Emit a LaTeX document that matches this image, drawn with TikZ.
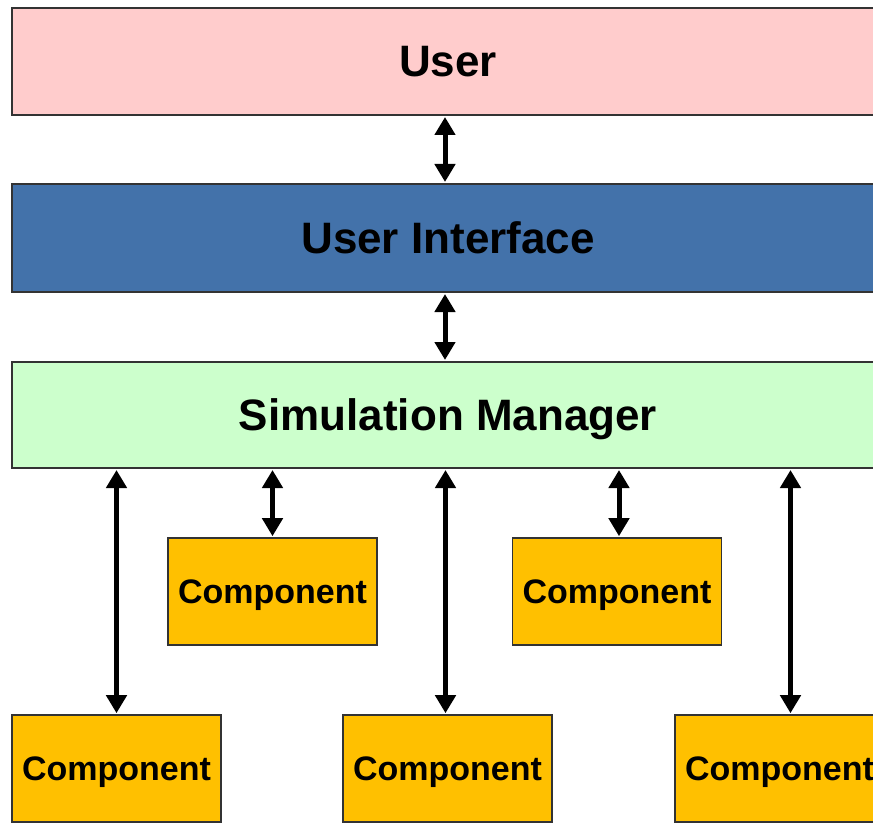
\documentclass[tikz,border=0pt]{standalone}
\usepackage{fontspec}
\setmainfont{Liberation Sans}
\usetikzlibrary{arrows.meta,calc}
\definecolor{userpink}{HTML}{FFCCCC}
\definecolor{uiblue}{HTML}{4372AA}
\definecolor{smgreen}{HTML}{CCFFCC}
\definecolor{comporange}{HTML}{FFC000}
\definecolor{edgegray}{HTML}{333333}
\tikzset{
  layer/.style={draw=edgegray, line width=2pt, minimum width=872pt, minimum height=107pt, inner sep=0pt, text depth=0pt, font=\fontsize{44}{50}\selectfont\bfseries},
  compbox/.style={draw=edgegray, line width=1.6pt, fill=comporange, minimum width=209pt, minimum height=107pt, inner sep=0pt, text depth=0pt, font=\fontsize{34}{40}\selectfont\bfseries},
  link/.style={line width=5pt, {Triangle[width=20pt,length=18pt]}-{Triangle[width=20pt,length=18pt]}, shorten <=1pt, shorten >=1pt}
}
\begin{document}
\begin{tikzpicture}[x=1pt,y=-1pt]
\useasboundingbox (0,0) rectangle (873,824);
\clip (0,0) rectangle (873,824);
\fill[white] (0,0) rectangle (873,824);
\node[layer, fill=userpink] (user) at (448,61.5) {User};
\node[layer, fill=uiblue, minimum height=108pt] (ui) at (448,238) {User Interface};
\node[layer, fill=smgreen, minimum height=106pt] (sm) at (448,415) {Simulation Manager};
\node[compbox] (c1) at (272.5,591.5) {Component};
\node[compbox] (c2) at (617,591.5) {Component};
\node[compbox] (b1) at (116.5,768.5) {Component};
\node[compbox] (b2) at (447.5,768.5) {Component};
\node[compbox] (b3) at (779.5,768.5) {Component};
\coordinate (a3) at ($(b3.north)+(11,0)$);
\draw[link] ($(user.south)+(-3,0)$) -- ($(ui.north)+(-3,0)$);
\draw[link] ($(ui.south)+(-3,0)$) -- ($(sm.north)+(-3,0)$);
\draw[link] (c1.north |- sm.south) -- (c1.north);
\draw[link] ($(c2.north |- sm.south)+(2,0)$) -- ($(c2.north)+(2,0)$);
\draw[link] (b1.north |- sm.south) -- (b1.north);
\draw[link] ($(b2.north |- sm.south)+(-2,0)$) -- ($(b2.north)+(-2,0)$);
\draw[link] (a3 |- sm.south) -- (a3);
\end{tikzpicture}
\end{document}
